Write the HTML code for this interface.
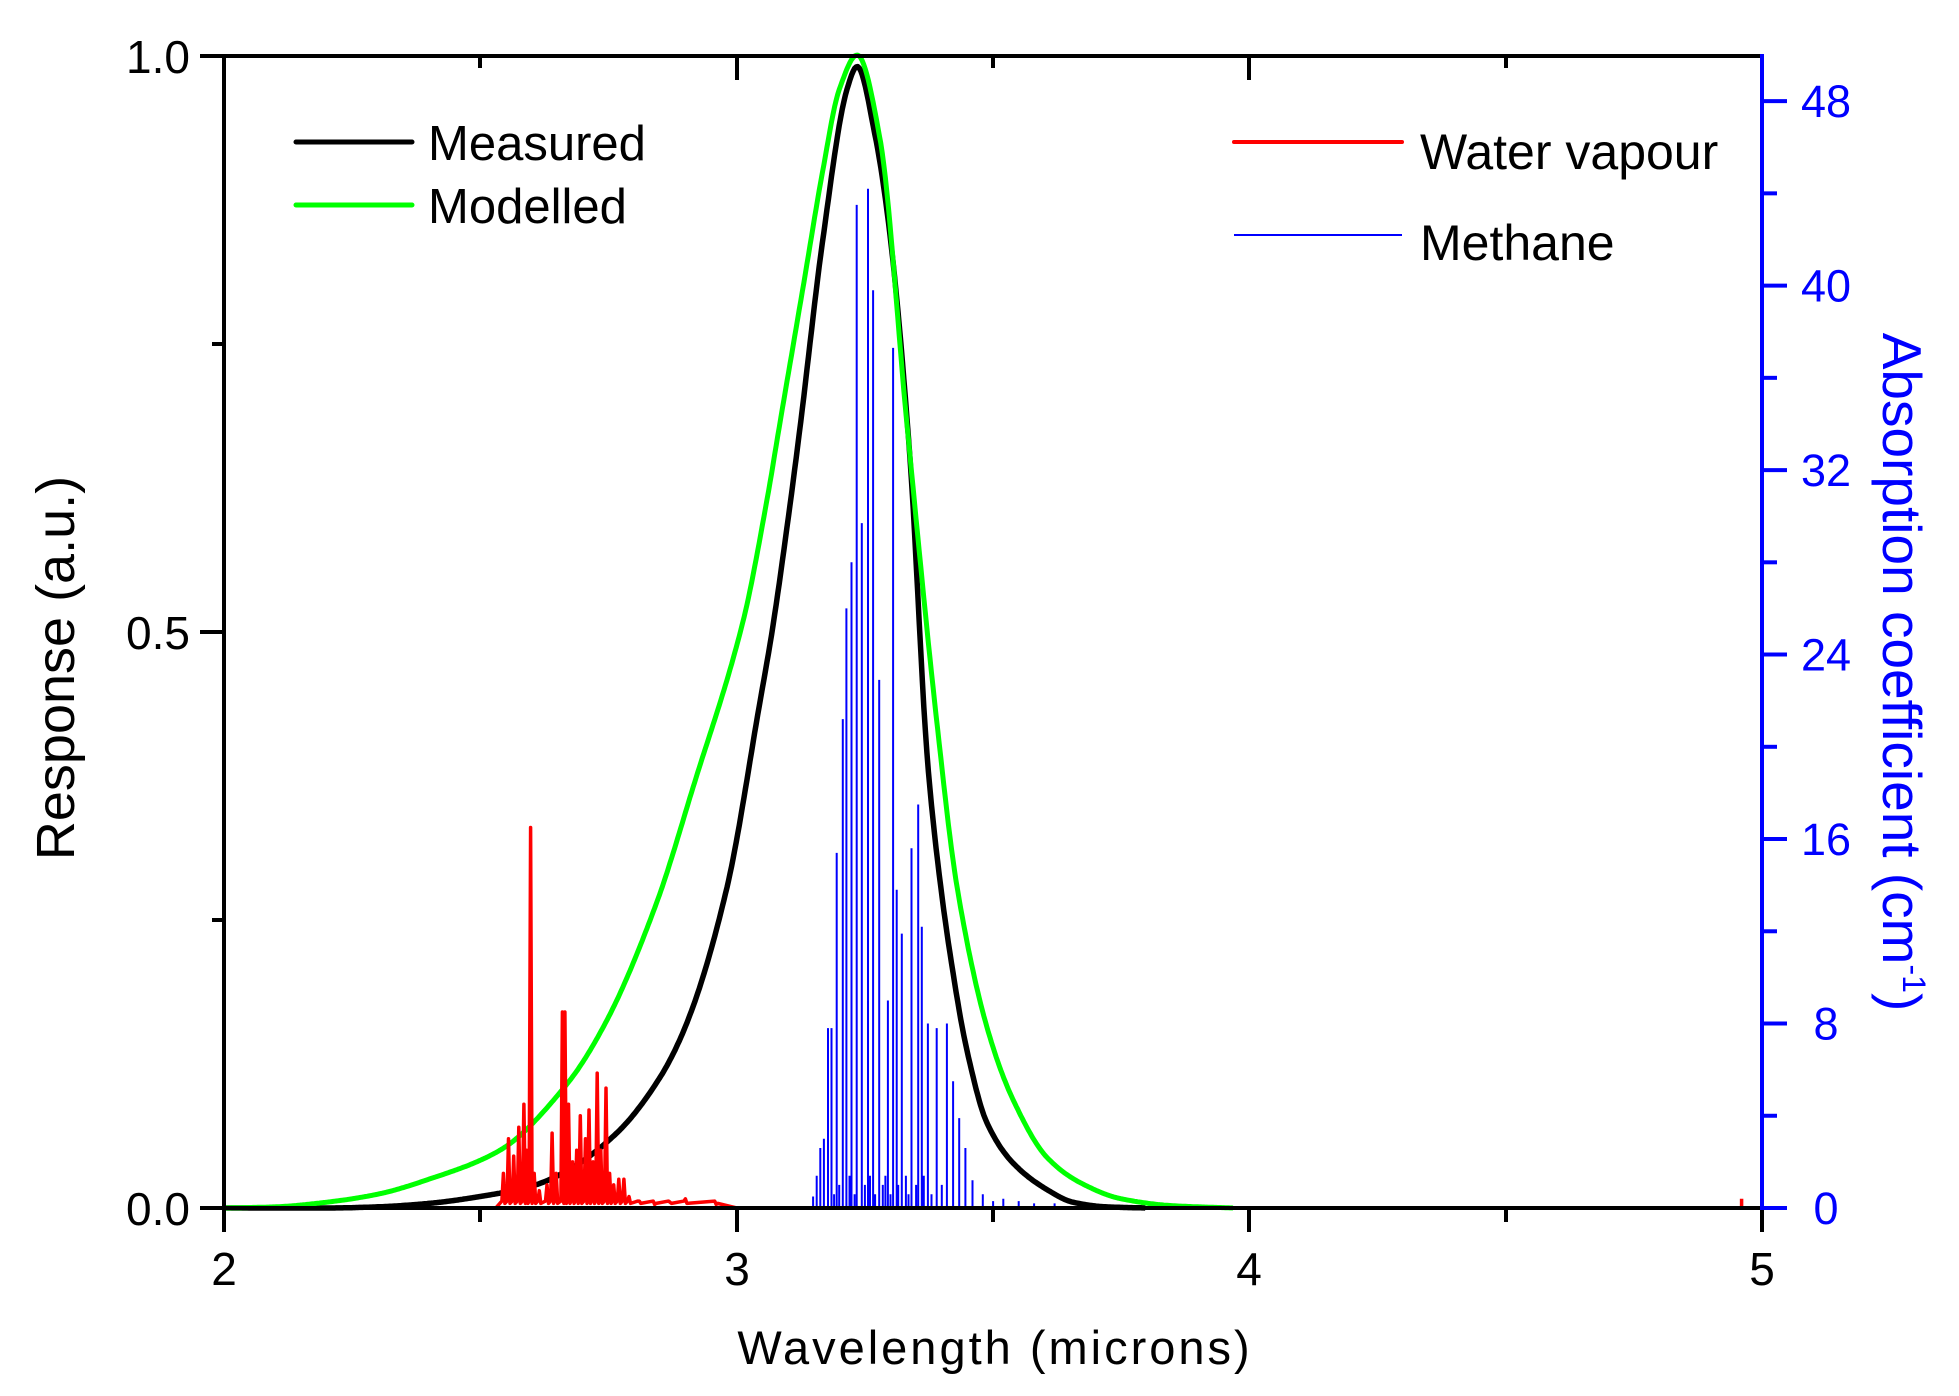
<!DOCTYPE html>
<html><head><meta charset="utf-8"><style>
html,body{margin:0;padding:0;background:#fff;}
svg{display:block;font-family:"Liberation Sans",Arial,sans-serif;}
</style></head><body>
<svg id="s" width="1959" height="1396" viewBox="0 0 1959 1396" xmlns="http://www.w3.org/2000/svg">
<rect width="1959" height="1396" fill="#fff"/>
<g id="data"></g>
<g stroke="#000" stroke-width="4" fill="none">
<line x1="224" y1="56" x2="1762" y2="56"/>
<line x1="224" y1="1208" x2="1762" y2="1208"/>
<line x1="224" y1="54" x2="224" y2="1210"/>
<line x1="224" y1="1208" x2="224" y2="1232"/>
<line x1="737" y1="1208" x2="737" y2="1232"/>
<line x1="1249" y1="1208" x2="1249" y2="1232"/>
<line x1="1762" y1="1208" x2="1762" y2="1232"/>
<line x1="480" y1="1208" x2="480" y2="1222"/>
<line x1="993" y1="1208" x2="993" y2="1222"/>
<line x1="1506" y1="1208" x2="1506" y2="1222"/>
<line x1="480" y1="56" x2="480" y2="68"/>
<line x1="737" y1="56" x2="737" y2="80"/>
<line x1="993" y1="56" x2="993" y2="68"/>
<line x1="1249" y1="56" x2="1249" y2="80"/>
<line x1="1506" y1="56" x2="1506" y2="68"/>
<line x1="200" y1="1208" x2="224" y2="1208"/>
<line x1="200" y1="632" x2="224" y2="632"/>
<line x1="200" y1="56" x2="224" y2="56"/>
<line x1="212" y1="920" x2="224" y2="920"/>
<line x1="212" y1="344" x2="224" y2="344"/>
</g>
<g stroke="#0000ff" stroke-width="4" fill="none" id="raxis">
<line x1="1762" y1="54" x2="1762" y2="1210"/>
</g>
<g font-size="46" fill="#000">
<text x="224" y="1285" text-anchor="middle">2</text>
<text x="737" y="1285" text-anchor="middle">3</text>
<text x="1249" y="1285" text-anchor="middle">4</text>
<text x="1762" y="1285" text-anchor="middle">5</text>
<text x="190" y="1225" text-anchor="end">0.0</text>
<text x="190" y="649" text-anchor="end">0.5</text>
<text x="190" y="73" text-anchor="end">1.0</text>
</g>
<g font-size="45" fill="#0000ff" id="rlabels"></g>
<text x="995" y="1364" font-size="47" text-anchor="middle" letter-spacing="3">Wavelength (microns)</text>
<text transform="translate(74,668) rotate(-90)" font-size="54" text-anchor="middle">Response (a.u.)</text>
<text transform="translate(1883,672) rotate(90)" font-size="55" fill="#0000ff" text-anchor="middle">Absorption coefficient (cm<tspan font-size="32" dy="-20">-1</tspan><tspan dy="20">)</tspan></text>
<line x1="296" y1="142" x2="412" y2="142" stroke="#000" stroke-width="5" stroke-linecap="round"/>
<line x1="296" y1="205" x2="412" y2="205" stroke="#00ff00" stroke-width="5" stroke-linecap="round"/>
<text x="428" y="160" font-size="49">Measured</text>
<text x="428" y="223" font-size="49">Modelled</text>
<line x1="1234" y1="142" x2="1402" y2="142" stroke="#ff0000" stroke-width="4" stroke-linecap="round"/>
<line x1="1234" y1="235" x2="1402" y2="235" stroke="#0000ff" stroke-width="2"/>
<text x="1420" y="169" font-size="50">Water vapour</text>
<text x="1420" y="260" font-size="50">Methane</text>
</svg>
<script>
(function(){
var NS="http://www.w3.org/2000/svg";
function X(w){return 224+(w-2)*512.7;}
function Y(r){return 1208-r*1153;}
function YR(a){return 1208-a*1153/50;}
var ra=document.getElementById('raxis'),rl=document.getElementById('rlabels');
for(var a=0;a<=48;a+=4){
 var l=document.createElementNS(NS,'line');var y=YR(a);
 l.setAttribute('x1',1762);l.setAttribute('x2',a%8==0?1787:1777);l.setAttribute('y1',y);l.setAttribute('y2',y);ra.appendChild(l);
 if(a%8==0){var t=document.createElementNS(NS,'text');t.setAttribute('x',1826);t.setAttribute('y',y+16);t.setAttribute('text-anchor','middle');t.textContent=a;rl.appendChild(t);}
}
function pchip(xs,ys){
 var n=xs.length,d=[],m=[];
 for(var i=0;i<n-1;i++)d.push((ys[i+1]-ys[i])/(xs[i+1]-xs[i]));
 m[0]=d[0];m[n-1]=d[n-2];
 for(i=1;i<n-1;i++){m[i]=(d[i-1]*d[i]<=0)?0:2/(1/d[i-1]+1/d[i]);}
 return function(x){
  if(x<=xs[0])return ys[0];if(x>=xs[n-1])return ys[n-1];
  var k=0;while(xs[k+1]<x)k++;
  var h=xs[k+1]-xs[k],t=(x-xs[k])/h,t2=t*t,t3=t2*t;
  return (2*t3-3*t2+1)*ys[k]+(t3-2*t2+t)*h*m[k]+(-2*t3+3*t2)*ys[k+1]+(t3-t2)*h*m[k+1];
 };
}
var g=document.getElementById('data');
function path(d,c,w){var p=document.createElementNS(NS,'path');p.setAttribute('d',d);p.setAttribute('stroke',c);p.setAttribute('stroke-width',w);p.setAttribute('fill','none');p.setAttribute('stroke-linejoin','round');g.appendChild(p);}
var bk=[[2,0],[2.2,0],[2.3,0.001],[2.4,0.004],[2.5,0.01],[2.6,0.019],[2.668,0.032],[2.766,0.065],[2.85,0.113],[2.905,0.163],[2.981,0.278],[3.045,0.438],[3.069,0.5],[3.098,0.59],[3.123,0.675],[3.168,0.84],[3.215,0.97],[3.235,0.99],[3.27,0.93],[3.3,0.84],[3.338,0.65],[3.371,0.395],[3.39,0.308],[3.416,0.221],[3.449,0.137],[3.488,0.074],[3.539,0.039],[3.605,0.016],[3.656,0.005],[3.72,0.001],[3.8,0]];
var gr=[[2,0],[2.1,0.001],[2.2,0.005],[2.3,0.012],[2.4,0.025],[2.538,0.05],[2.668,0.107],[2.747,0.163],[2.844,0.265],[2.915,0.365],[3.013,0.51],[3.059,0.614],[3.084,0.68],[3.13,0.8],[3.168,0.9],[3.2,0.97],[3.235,1.0],[3.28,0.926],[3.332,0.68],[3.39,0.423],[3.43,0.278],[3.488,0.157],[3.539,0.094],[3.605,0.044],[3.67,0.022],[3.75,0.008],[3.85,0.002],[3.97,0]];
function curve(pts,c,w,xmax){
 var f=pchip(pts.map(function(p){return p[0]}),pts.map(function(p){return p[1]}));
 var d='';for(var x=2;x<=xmax;x+=0.003){d+=(d?'L':'M')+X(x).toFixed(1)+' '+Y(Math.max(0,f(x))).toFixed(1);}
 path(d,c,w);
}
curve(bk,'#000',5.5,3.8);
curve(gr,'#00ff00',5,3.97);
var wv=[[2.545,0.03],[2.555,0.06],[2.565,0.045],[2.575,0.07],[2.585,0.09],[2.59,0.05],[2.598,0.33],[2.605,0.03],[2.615,0.015],[2.63,0.02],[2.64,0.065],[2.648,0.03],[2.66,0.17],[2.665,0.17],[2.672,0.09],[2.68,0.04],[2.688,0.05],[2.695,0.08],[2.705,0.06],[2.712,0.085],[2.72,0.04],[2.728,0.117],[2.735,0.05],[2.745,0.104],[2.752,0.03],[2.76,0.02],[2.77,0.025],[2.78,0.025],[2.79,0.01],[2.81,0.006],[2.84,0.003],[2.87,0.005],[2.9,0.008],[2.96,0.003]];
var d='M'+X(2.53)+' '+Y(0);
wv.forEach(function(p){var x=X(p[0]);d+='L'+(x-1.5).toFixed(1)+' '+Y(0.006)+'L'+x.toFixed(1)+' '+Y(p[1]).toFixed(1)+'L'+(x+1.5).toFixed(1)+' '+Y(0.004);});
d+='L'+X(3.0)+' '+Y(0);
d+='M'+X(4.96)+' '+Y(0)+'L'+X(4.96)+' '+Y(0.008);
path(d,'#ff0000',3.5);
var me=[[3.149,0.5],[3.156,1.4],[3.163,2.6],[3.17,3],[3.178,7.8],[3.185,7.8],[3.195,15.4],[3.207,21.2],[3.214,26],[3.224,28],[3.234,43.5],[3.244,29.7],[3.256,44.2],[3.266,39.8],[3.278,22.9],[3.295,9],[3.305,37.3],[3.312,13.8],[3.322,11.9],[3.341,15.6],[3.354,17.5],[3.361,12.2],[3.373,8],[3.39,7.8],[3.41,8],[3.422,5.5],[3.434,3.9],[3.446,2.6],[3.46,1.2],[3.48,0.6],[3.5,0.3],[3.52,0.4],[3.55,0.3],[3.58,0.2],[3.62,0.2]];
d='';
me.forEach(function(p){var x=X(p[0]).toFixed(1);d+='M'+x+' '+YR(0)+'L'+x+' '+YR(p[1]).toFixed(1);});
var extra=[3.19,3.2,3.22,3.23,3.25,3.26,3.27,3.285,3.29,3.3,3.315,3.33,3.335,3.35,3.365,3.38,3.4];
extra.forEach(function(w,i){var x=X(w).toFixed(1);d+='M'+x+' '+YR(0)+'L'+x+' '+YR(0.6+(i%3)*0.4).toFixed(1);});
path(d,'#0000ff',2);
})();
</script>
</body></html>
